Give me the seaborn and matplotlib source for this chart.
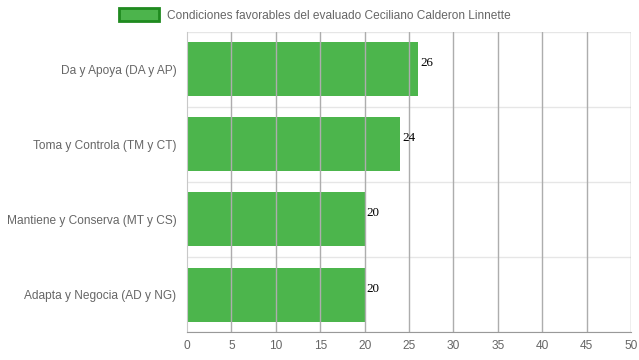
import numpy as np
import pandas as pd
import seaborn as sns
import matplotlib.pyplot as plt
from matplotlib.patches import Patch

# datos
categorias = ["Da y Apoya (DA y AP)", "Toma y Controla (TM y CT)",
              "Mantiene y Conserva (MT y CS)", "Adapta y Negocia (AD y NG)"]
valores = [26, 24, 20, 20]
serie = "Condiciones favorables del evaluado Ceciliano Calderon Linnette"
x_ticks = [0, 5, 10, 15, 20, 25, 30, 35, 40, 45, 50]

df = pd.DataFrame({"categoria": categorias, "valor": valores})

sns.set_style("white")
plt.rcParams['font.family'] = ['Liberation Sans', 'DejaVu Sans']

fig = plt.figure(figsize=(6.39, 3.6), dpi=100)
ax = fig.add_axes([187 / 639, 28 / 360, 444 / 639, 300 / 360])

sns.barplot(data=df, x="valor", y="categoria", orient="h",
            color="#2ca02c", width=0.72, ax=ax, zorder=1)
for p in ax.patches:
    p.set_facecolor((0.2, 0.67, 0.2, 0.88))
    p.set_edgecolor("none")

ax.set_xlim(0, 50)
ax.set_ylim(len(categorias) - 0.5, -0.5)
ax.set_xticks(x_ticks)
ax.set_xticklabels([str(t) for t in x_ticks])

# rejilla vertical (encima de las barras, como en chart.js con transparencia)
for t in x_ticks[1:]:
    ax.axvline(t, color="#adadad", linewidth=1, zorder=2)

# lineas horizontales entre categorias
bordes = np.arange(-0.5, len(categorias), 1.0)
ax.set_yticks(bordes, minor=True)
ax.tick_params(axis="y", which="minor", length=10, color="#e6e6e6", width=1)
ax.grid(axis="y", which="minor", color="#e6e6e6", linewidth=1, zorder=0)
ax.tick_params(axis="y", which="major", length=0, pad=7.5,
               labelsize=8.6, labelcolor="#666666")
ax.tick_params(axis="x", length=0, pad=6, labelsize=8.6, labelcolor="#666666")

for s in ["top", "right"]:
    ax.spines[s].set_visible(False)
ax.spines["bottom"].set_color("#999999")
ax.spines["left"].set_color("#c8c8c8")

ax.set_xlabel("")
ax.set_ylabel("")

# etiquetas de valores
for i, v in enumerate(valores):
    ax.text(v + 0.25, i - 0.08, str(v), va="center", ha="left",
            fontsize=9.4, family="Liberation Serif", color="black")

leg = fig.legend(handles=[Patch(facecolor="#4cb44c", edgecolor="#1f8a1f",
                                linewidth=2, label=serie)],
                 loc="center", bbox_to_anchor=(0.5 - 5 / 639, 1 - 15 / 360),
                 frameon=False, fontsize=8.6, handlelength=3.4, handleheight=1.2,
                 handletextpad=0.6, labelcolor="#666666")

fig.savefig("out.png", dpi=100)
